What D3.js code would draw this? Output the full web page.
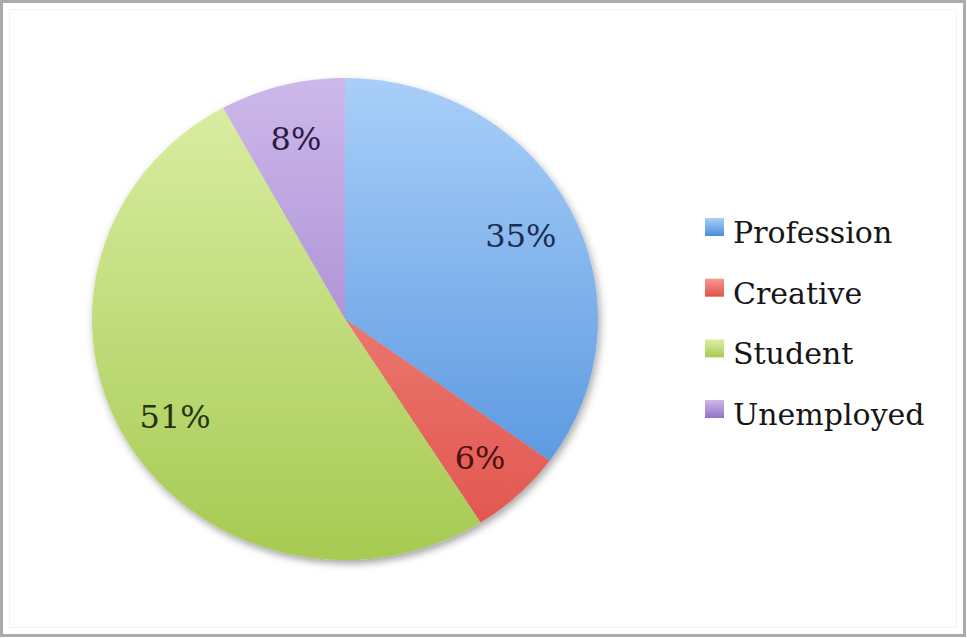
<!DOCTYPE html>
<html>
<head>
<meta charset="utf-8">
<script src="https://cdn.jsdelivr.net/npm/d3@7"></script>
<style>
  html, body { margin: 0; padding: 0; background: #fff; }
  svg { display: block; }
</style>
</head>
<body>
<svg id="chart" width="967" height="638"></svg>
<script>
// Occupation breakdown (percent of respondents)
const categories = ["Profession", "Creative", "Student", "Unemployed"];
const values = [35, 6, 51, 8];
const labels = ["35%", "6%", "51%", "8%"];

// light (top) and dark (bottom) shade for each slice
const lightColors = ["#a9cff9", "#f59a90", "#dcefa6", "#cdb8ea"];
const darkColors  = ["#4a8ddb", "#e0524b", "#a6ca52", "#9373c4"];
const textColors  = ["#1b2e4e", "#4d1010", "#25330f", "#2b1947"];

const W = 967, H = 638;
const cx = 345, cy = 319, rx = 253, ry = 241;
const svg = d3.select("#chart");
const defs = svg.append("defs");

// frame
svg.append("rect").attr("x", 1.5).attr("y", 1.5).attr("width", W - 4).attr("height", H - 4)
  .attr("fill", "#fff").attr("stroke", "#ababab").attr("stroke-width", 3);
svg.append("rect").attr("x", 9.5).attr("y", 9.5).attr("width", W - 20).attr("height", H - 20)
  .attr("fill", "none").attr("stroke", "#f3f3f3").attr("stroke-width", 1);

// soft shadow under the pie
const shadow = defs.append("filter").attr("id", "shadow")
  .attr("x", "-10%").attr("y", "-10%").attr("width", "125%").attr("height", "125%");
shadow.append("feDropShadow").attr("dx", 2).attr("dy", 4).attr("stdDeviation", 4)
  .attr("flood-color", "#000").attr("flood-opacity", 0.35);

categories.forEach((c, i) => {
  const g = defs.append("linearGradient").attr("id", "grad" + i)
    .attr("gradientUnits", "userSpaceOnUse")
    .attr("x1", 0).attr("y1", -rx).attr("x2", 0).attr("y2", rx);
  g.append("stop").attr("offset", "0%").attr("stop-color", lightColors[i]);
  g.append("stop").attr("offset", "100%").attr("stop-color", darkColors[i]);
  const lg = defs.append("linearGradient").attr("id", "lgrad" + i)
    .attr("x1", 0).attr("y1", 0).attr("x2", 0).attr("y2", 1);
  lg.append("stop").attr("offset", "0%").attr("stop-color", lightColors[i]);
  lg.append("stop").attr("offset", "100%").attr("stop-color", darkColors[i]);
});

const pie = d3.pie().sort(null).value(d => d)(values);
const arc = d3.arc().innerRadius(0).outerRadius(rx);
const labelArc = d3.arc().innerRadius(rx * 0.78).outerRadius(rx * 0.78);

const pieG = svg.append("g")
  .attr("transform", `translate(${cx},${cy}) scale(1,${ry / rx})`)
  .attr("filter", "url(#shadow)");
pieG.selectAll("path").data(pie).join("path")
  .attr("d", arc)
  .attr("fill", (d, i) => `url(#grad${i})`);

// percentage labels
svg.append("g").selectAll("text").data(pie).join("text")
  .attr("x", d => cx + labelArc.centroid(d)[0])
  .attr("y", d => cy + labelArc.centroid(d)[1] * ry / rx)
  .attr("dy", "0.42em")
  .attr("text-anchor", "middle")
  .attr("font-family", "'DejaVu Serif', serif")
  .attr("font-size", 32)
  .attr("fill", (d, i) => textColors[i])
  .text((d, i) => labels[i]);

// legend
const legend = svg.append("g").attr("transform", "translate(705,0)");
const rowY = d3.scalePoint().domain(categories).range([243, 425]);
const item = legend.selectAll("g").data(categories).join("g")
  .attr("transform", d => `translate(0,${rowY(d)})`);
item.append("rect").attr("x", 0).attr("y", -25).attr("width", 19).attr("height", 18)
  .attr("fill", (d, i) => `url(#lgrad${i})`);
item.append("text").attr("x", 28).attr("y", 0)
  .attr("font-family", "'DejaVu Serif', serif")
  .attr("font-size", 30)
  .attr("fill", "#161616")
  .text(d => d);
</script>
</body>
</html>
